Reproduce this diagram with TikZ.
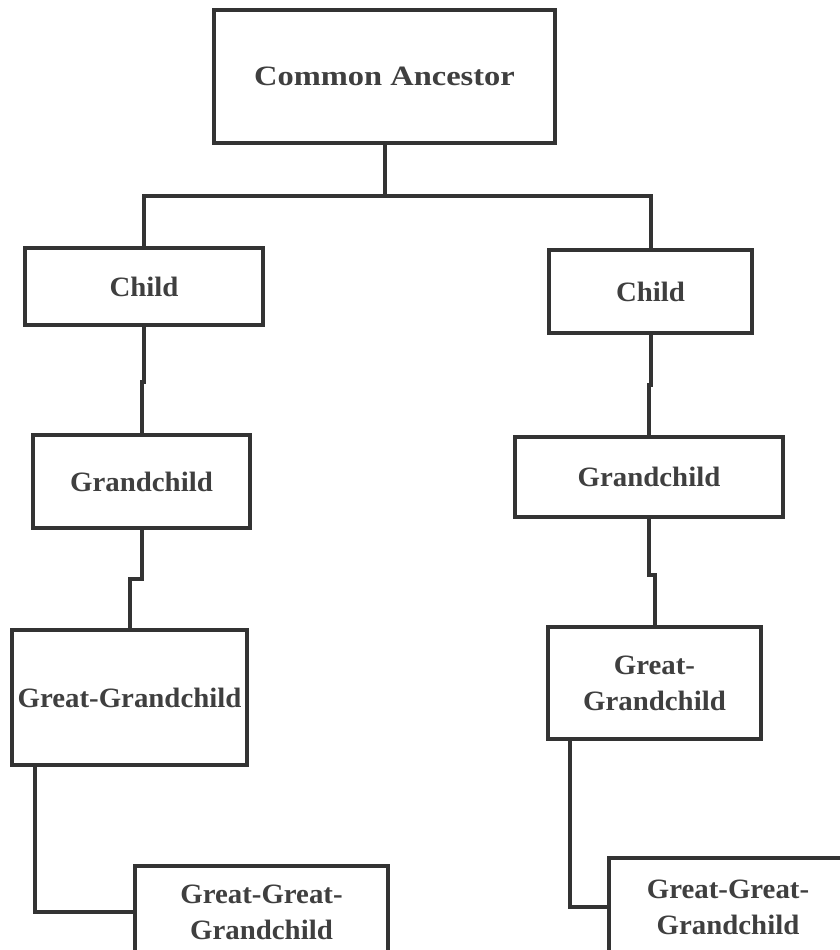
\documentclass[tikz,border=0pt]{standalone}
\usepackage{fontspec}
\setmainfont{Liberation Serif}
\newfontfamily\boxfont[FakeStretch=1.03]{Liberation Serif}
\newfontfamily\widefont[FakeStretch=1.16]{Liberation Serif}
\usetikzlibrary{calc}
\definecolor{ink}{HTML}{333333}
\definecolor{txt}{HTML}{3F3F3F}
\begin{document}
\begin{tikzpicture}[x=1pt,y=-1pt,
  box/.style={draw=ink, line width=4pt, fill=white, inner sep=0pt,
    text=txt, align=center, font=\boxfont\fontsize{28}{36}\selectfont\bfseries},
  link/.style={draw=ink, line width=4pt, line join=miter}]
\useasboundingbox (0,0) rectangle (840,950);

% boxes (centre, width, height)
\node[box, minimum width=341, minimum height=133] (ca)  at (384.5,76.5) {\widefont\bfseries Common Ancestor};
\node[box, minimum width=238, minimum height=77]  (lc)  at (144,286.5) {Child};
\node[box, minimum width=203, minimum height=83]  (rc)  at (650.5,291.5) {Child};
\node[box, minimum width=217, minimum height=93]  (lg)  at (141.5,481.5) {Grandchild};
\node[box, minimum width=268, minimum height=80]  (rg)  at (649,477) {Grandchild};
\node[box, minimum width=235, minimum height=135] (lgg) at (129.5,697.5) {Great-Grandchild};
\node[box, minimum width=213, minimum height=112] (rgg) at (654.5,683) {Great-\\Grandchild};
\node[box, minimum width=253, minimum height=92]  (lggg) at (261.5,912) {Great-Great-\\Grandchild};
\node[box, minimum width=238, minimum height=98]  (rggg) at (728,907) {Great-Great-\\Grandchild};

% connectors
\coordinate (j0) at (385,196);
\draw[link] (ca.south -| j0) -- (j0) -| (lc.north);
\draw[link] (j0) -| (rc.north);

\coordinate (j1) at (0,382);
\draw[link] (lc.south) -- (lc.south |- j1) -| (lg.north);
\coordinate (j2) at (0,385);
\draw[link] (rc.south) -- (rc.south |- j2) -| (rg.north);
\coordinate (j3) at (0,579);
\draw[link] (lg.south) -- (lg.south |- j3) -| (lgg.north);
\coordinate (j4) at (0,575);
\draw[link] (rg.south) -- (rg.south |- j4) -| (rgg.north);

\coordinate (k1) at (35,0);
\draw[link] (lgg.south -| k1) |- (lggg.west);
\coordinate (k2) at (570,0);
\draw[link] (rgg.south -| k2) |- (rggg.west);
\end{tikzpicture}
\end{document}
